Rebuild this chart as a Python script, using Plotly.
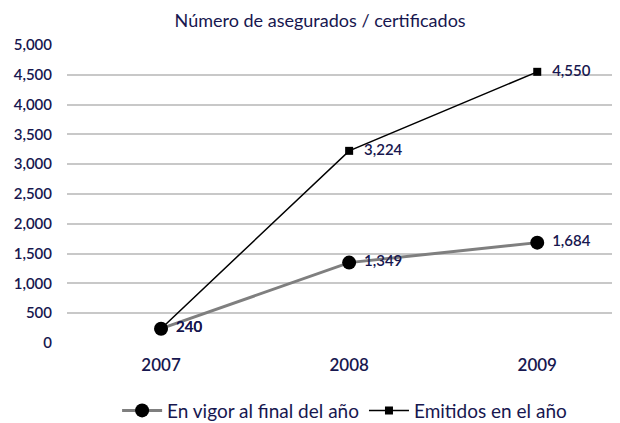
import plotly.graph_objects as go

anios = ['2007', '2008', '2009']
en_vigor = [240, 1349, 1684]
emitidos = [240, 3224, 4550]
y_ticks = list(range(0, 5001, 500))

azul = '#17174f'
fuente = 'Lato'
fuente_etiqueta = dict(family=fuente, size=15, color=azul, weight=600)

fig = go.Figure()

# Emitidos primero para que quede debajo del círculo en 2007
fig.add_trace(go.Scatter(
    x=anios, y=emitidos, name='Emitidos en el año',
    mode='lines+markers',
    line=dict(color='black', width=1.5),
    marker=dict(symbol='square', size=8, color='black'),
    legendrank=2,
))

fig.add_trace(go.Scatter(
    x=anios, y=en_vigor, name='En vigor al final del año',
    mode='lines+markers',
    line=dict(color='#7f7f7f', width=3),
    marker=dict(symbol='circle', size=14, color='black'),
    legendrank=1,
))

# etiquetas en trazas aparte para que el desplazamiento sea igual en ambas series
for serie in (emitidos, en_vigor):
    fig.add_trace(go.Scatter(
        x=anios, y=serie, mode='text',
        text=[f'    {v:,}' for v in serie],
        textposition='middle right',
        textfont=fuente_etiqueta,
        showlegend=False, hoverinfo='skip',
    ))

# la página tiene 8px de margen en el body, se compensa aquí
fig.update_layout(
    width=612, height=415,
    margin=dict(l=59, r=0, t=37, b=80),
    paper_bgcolor='white', plot_bgcolor='white',
    font=dict(family=fuente, color=azul),
    title=dict(text='Número de asegurados / certificados', x=0.51, xanchor='center',
               y=0.985, yanchor='top', font=dict(size=18, color=azul)),
    showlegend=True,
    legend=dict(orientation='h', xref='container', yref='container',
                x=0.55, xanchor='center', y=0.03, yanchor='middle',
                itemwidth=40, font=dict(size=19, color=azul)),
)

fig.update_xaxes(
    type='category', range=[-0.5, 2.44], automargin=False,
    showgrid=False, showline=False, zeroline=False,
    tickfont=dict(size=17, color=azul, weight=600),
    ticks='', ticklabelstandoff=10,
)

fig.update_yaxes(
    range=[0, 5000], tickvals=y_ticks, tickformat=',', automargin=False,
    showgrid=True, gridcolor='#c8c8c8', gridwidth=1.5,
    zeroline=False, showline=False,
    tickfont=dict(size=15, color=azul, weight=600),
    ticks='', ticklabelstandoff=14,
)

fig.write_html('out.html')
